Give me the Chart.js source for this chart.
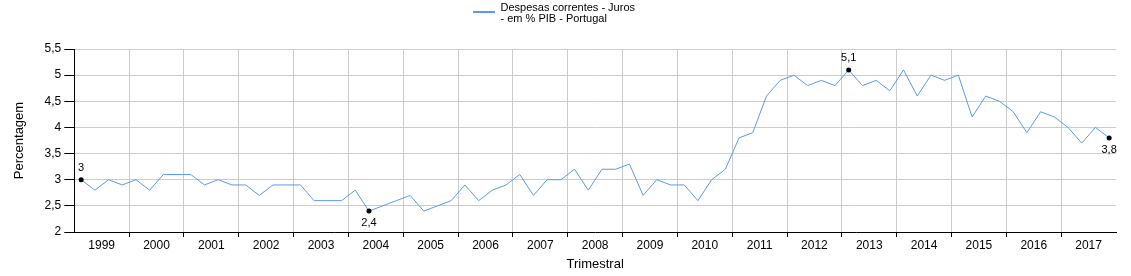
<!DOCTYPE html>
<html>
<head>
<meta charset="utf-8">
<script src="https://cdn.jsdelivr.net/npm/chart.js@4"></script>
<style>
  html, body { margin: 0; padding: 0; background: #fff; }
</style>
</head>
<body>
<canvas id="grafico" width="1131" height="276"></canvas>
<script>
const anos = ['1999', '2000', '2001', '2002', '2003', '2004', '2005', '2006', '2007', '2008',
  '2009', '2010', '2011', '2012', '2013', '2014', '2015', '2016', '2017'];
const trimestres = anos.flatMap(a => ['T1', 'T2', 'T3', 'T4'].map(t => a + ' ' + t));

// Despesas correntes - Juros - em % PIB
const valores = [
  3.0, 2.8, 3.0, 2.9,  3.0, 2.8, 3.1, 3.1,  3.1, 2.9, 3.0, 2.9,  2.9, 2.7, 2.9, 2.9,
  2.9, 2.6, 2.6, 2.6,  2.8, 2.4, 2.5, 2.6,  2.7, 2.4, 2.5, 2.6,  2.9, 2.6, 2.8, 2.9,
  3.1, 2.7, 3.0, 3.0,  3.2, 2.8, 3.2, 3.2,  3.3, 2.7, 3.0, 2.9,  2.9, 2.6, 3.0, 3.2,
  3.8, 3.9, 4.6, 4.9,  5.0, 4.8, 4.9, 4.8,  5.1, 4.8, 4.9, 4.7,  5.1, 4.6, 5.0, 4.9,
  5.0, 4.2, 4.6, 4.5,  4.3, 3.9, 4.3, 4.2,  4.0, 3.7, 4.0, 3.8
];

// pontos assinalados (primeiro, minimo, maximo, ultimo)
const destaques = [0, 21, 56, 75];
const posicoes = ['acima', 'abaixo', 'acima', 'abaixo'];

const legendaLinhas = ['Despesas correntes - Juros', '- em % PIB - Portugal'];
const corLinha = 'rgb(90, 155, 235)';
const fonte = '"Liberation Sans", Arial, sans-serif';

const virgula = v => String(v).replace('.', ',');

// legenda: largura certa para texto em duas linhas e mais espaco por baixo
const espacoLegenda = {
  id: 'espacoLegenda',
  beforeInit(chart) {
    const legenda = chart.legend;
    const fitOriginal = legenda.fit;
    legenda.fit = function () {
      fitOriginal.call(this);
      this.height += 26;
      const ctx = this.ctx;
      ctx.save();
      ctx.font = '11px ' + fonte;
      const w = Math.max(...legendaLinhas.map(l => ctx.measureText(l).width));
      ctx.restore();
      this.lineWidths[0] = 22 + 5.5 + w + 10;
    };
  },
  afterDraw(chart) {
    const box = chart.legend.legendHitBoxes[0];
    if (!box) return;
    const ctx = chart.ctx;
    ctx.save();
    ctx.strokeStyle = corLinha;
    ctx.lineWidth = 2;
    ctx.beginPath();
    ctx.moveTo(box.left, box.top + 10);
    ctx.lineTo(box.left + 22, box.top + 10);
    ctx.stroke();
    ctx.restore();
  }
};

const rotulos = {
  id: 'rotulos',
  afterDatasetsDraw(chart) {
    const ctx = chart.ctx;
    const pts = chart.getDatasetMeta(0).data;
    ctx.save();
    ctx.font = '11px ' + fonte;
    ctx.fillStyle = '#000';
    ctx.textAlign = 'center';
    ctx.textBaseline = 'middle';
    destaques.forEach((i, k) => {
      const p = pts[i];
      const dy = posicoes[k] === 'acima' ? -12 : 12;
      ctx.fillText(virgula(valores[i]), p.x, p.y + dy);
    });
    ctx.restore();
  }
};

new Chart(document.getElementById('grafico'), {
  type: 'line',
  data: {
    labels: trimestres,
    datasets: [{
      label: legendaLinhas.join(' '),
      data: valores,
      borderColor: corLinha,
      backgroundColor: corLinha,
      borderWidth: 1,
      tension: 0,
      pointRadius: ctx => destaques.includes(ctx.dataIndex) ? 2.5 : 0,
      pointBackgroundColor: '#000',
      pointBorderWidth: 0
    }]
  },
  options: {
    responsive: false,
    animation: false,
    events: [],
    layout: { padding: { left: 0, right: 15, top: 0, bottom: 2 } },
    plugins: {
      tooltip: { enabled: false },
      legend: {
        position: 'top',
        labels: {
          usePointStyle: true,
          pointStyleWidth: 22,
          padding: 2,
          color: '#000',
          font: { size: 11, family: fonte, lineHeight: 1 },
          generateLabels: () => [{
            text: legendaLinhas,
            strokeStyle: 'rgba(0,0,0,0)',
            fillStyle: 'rgba(0,0,0,0)',
            lineWidth: 0,
            pointStyle: 'line',
            datasetIndex: 0,
            hidden: false
          }]
        }
      }
    },
    scales: {
      x: {
        type: 'category',
        offset: true,
        display: false
      },
      xAno: {
        type: 'category',
        labels: anos,
        position: 'bottom',
        offset: true,
        border: { color: '#000' },
        grid: {
          offset: true,
          color: ctx => (ctx.index > 0 && ctx.index < anos.length) ? '#cccccc' : 'rgba(0,0,0,0)',
          tickColor: ctx => (ctx.index > 0 && ctx.index < anos.length) ? '#000' : 'rgba(0,0,0,0)',
          tickLength: 5
        },
        ticks: {
          color: '#000',
          font: { size: 12, family: fonte },
          padding: 1,
          autoSkip: false,
          maxRotation: 0
        },
        title: {
          display: true,
          text: 'Trimestral',
          color: '#000',
          font: { size: 13, family: fonte },
          padding: { top: 3, bottom: 2 }
        }
      },
      y: {
        min: 2,
        max: 5.5,
        border: { color: '#000' },
        grid: {
          color: ctx => ctx.index === 0 ? 'rgba(0,0,0,0)' : '#cccccc',
          tickColor: '#000',
          tickLength: 10
        },
        ticks: {
          stepSize: 0.5,
          padding: 3,
          color: '#000',
          font: { size: 12, family: fonte },
          callback: v => virgula(v)
        },
        title: {
          display: true,
          text: 'Percentagem',
          color: '#000',
          font: { size: 13, family: fonte },
          padding: { top: 12, bottom: 14 }
        }
      }
    }
  },
  plugins: [espacoLegenda, rotulos]
});
</script>
</body>
</html>
